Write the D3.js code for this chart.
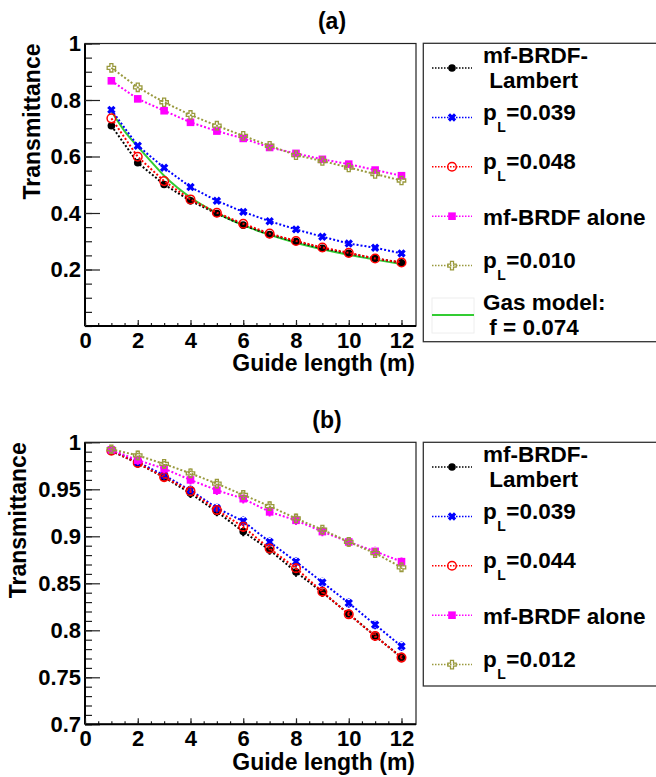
<!DOCTYPE html>
<html>
<head>
<meta charset="utf-8">
<script src="https://cdn.jsdelivr.net/npm/d3@7"></script>
<style>
  body { margin: 0; background: #fff; }
  text { font-family: "Liberation Sans", Arial, sans-serif; font-weight: bold; fill: #000; }
</style>
</head>
<body>
<div id="chart"></div>
<script>
// ---- data ----
const guideLength = [1, 2, 3, 4, 5, 6, 7, 8, 9, 10, 11, 12];

// panel (a)
const aLambert = [0.709, 0.578, 0.501, 0.443, 0.398, 0.357, 0.324, 0.299, 0.275, 0.257, 0.239, 0.224];
const aPL039   = [0.765, 0.638, 0.560, 0.492, 0.443, 0.404, 0.371, 0.342, 0.316, 0.292, 0.277, 0.257];
const aPL048   = [0.735, 0.599, 0.513, 0.448, 0.401, 0.362, 0.327, 0.301, 0.278, 0.259, 0.239, 0.225];
const aAlone   = [0.868, 0.804, 0.762, 0.721, 0.690, 0.664, 0.632, 0.611, 0.590, 0.573, 0.552, 0.532];
const aPL010   = [0.914, 0.845, 0.792, 0.747, 0.709, 0.673, 0.638, 0.605, 0.584, 0.561, 0.538, 0.515];
const gasX     = [1, 1.5, 2, 2.5, 3, 3.5, 4, 5, 6, 7, 8, 9, 10, 11, 12];
const gasY     = [0.760, 0.690, 0.635, 0.583, 0.532, 0.490, 0.455, 0.400, 0.357, 0.323, 0.295, 0.272, 0.252, 0.235, 0.219];
const labelsA  = [["mf-BRDF-", " Lambert"], ["p", "L", "=0.039"], ["p", "L", "=0.048"], ["mf-BRDF alone"], ["p", "L", "=0.010"], ["Gas model:", " f = 0.074"]];
const yTicksA  = [0.2, 0.4, 0.6, 0.8, 1];

// panel (b)
const bLambert = [0.9908, 0.9777, 0.9628, 0.9457, 0.9262, 0.9050, 0.8855, 0.8620, 0.8404, 0.8174, 0.7940, 0.7710];
const bPL039   = [0.9910, 0.9790, 0.9650, 0.9490, 0.9300, 0.9160, 0.8940, 0.8730, 0.8510, 0.8290, 0.8060, 0.7830];
const bPL044   = [0.9910, 0.9780, 0.9630, 0.9480, 0.9280, 0.9100, 0.8870, 0.8660, 0.8410, 0.8170, 0.7940, 0.7710];
const bAlone   = [0.9920, 0.9810, 0.9720, 0.9600, 0.9490, 0.9400, 0.9260, 0.9170, 0.9050, 0.8940, 0.8840, 0.8730];
const bPL012   = [0.9926, 0.9860, 0.9770, 0.9670, 0.9560, 0.9440, 0.9320, 0.9190, 0.9070, 0.8940, 0.8820, 0.8670];
const bErr     = [0.004, 0.005, 0.005, 0.005, 0.005, 0.005, 0.005, 0.005, 0.005, 0.005, 0.005, 0.005];
const labelsB  = [["mf-BRDF-", " Lambert"], ["p", "L", "=0.039"], ["p", "L", "=0.044"], ["mf-BRDF alone"], ["p", "L", "=0.012"]];
const yTicksB  = [0.7, 0.75, 0.8, 0.85, 0.9, 0.95, 1];

// ---- styles ----
const seriesStyle = [
  { color: "#000000", marker: "dot" },
  { color: "#0000ff", marker: "x" },
  { color: "#ff0000", marker: "ring" },
  { color: "#ff00ff", marker: "square" },
  { color: "#99993d", marker: "cross" }
];
const gasColor = "#33cc33";

const svg = d3.select("#chart").append("svg")
  .attr("width", 656).attr("height", 777);
svg.append("rect").attr("width", 656).attr("height", 777).attr("fill", "#fff");

const x = d3.scaleLinear().domain([0, 12.55]).range([85, 416]);

function drawMarker(g, type, cx, cy, color) {
  if (type === "dot") {
    g.append("circle").attr("cx", cx).attr("cy", cy).attr("r", 3.8).attr("fill", color);
  } else if (type === "ring") {
    g.append("circle").attr("cx", cx).attr("cy", cy).attr("r", 4.3)
      .attr("fill", "none").attr("stroke", color).attr("stroke-width", 1.5);
  } else if (type === "square") {
    g.append("rect").attr("x", cx - 3.8).attr("y", cy - 3.8).attr("width", 7.6).attr("height", 7.6).attr("fill", color);
  } else if (type === "x") {
    const s = 3.1;
    g.append("path")
      .attr("d", `M${cx - s},${cy - s}L${cx + s},${cy + s}M${cx - s},${cy + s}L${cx + s},${cy - s}`)
      .attr("stroke", color).attr("stroke-width", 3.2).attr("fill", "none");
  } else if (type === "cross") {
    const s = 4.2, a = 1.5;
    const pts = [[-a,-s],[a,-s],[a,-a],[s,-a],[s,a],[a,a],[a,s],[-a,s],[-a,a],[-s,a],[-s,-a],[-a,-a]];
    g.append("path")
      .attr("d", "M" + pts.map(p => `${cx + p[0]},${cy + p[1]}`).join("L") + "Z")
      .attr("fill", "none").attr("stroke", color).attr("stroke-width", 1.3);
  }
}

function drawLegendLabel(g, parts, lx, ly) {
  if (parts.length === 3) {
    const t = g.append("text").attr("x", lx).attr("y", ly + 2.4).style("font-size", "22.5px");
    t.append("tspan").text(parts[0]);
    t.append("tspan").attr("dx", 0.5).attr("dy", 12).style("font-size", "14px").text(parts[1]);
    t.append("tspan").attr("dx", 0.5).attr("dy", -12).text(parts[2]);
  } else if (parts.length === 2) {
    g.append("text").attr("x", lx).attr("y", ly - 4.8).style("font-size", "22.5px").attr("xml:space", "preserve").text(parts[0]);
    g.append("text").attr("x", lx).attr("y", ly + 20).style("font-size", "22.5px").attr("xml:space", "preserve").text(parts[1]);
  } else {
    g.append("text").attr("x", lx).attr("y", ly + 8.3).style("font-size", "22.5px").text(parts[0]);
  }
}

const panels = [
  { title: "(a)", titleX: 332, titleY: 29, top: 43.5, bottom: 326, domain: [0, 1], ticks: yTicksA,
    minor: d3.range(0, 1.001, 0.05), series: [aLambert, aPL039, aPL048, aAlone, aPL010], errors: null,
    labels: labelsA, legendTop: 43.3, legendBottom: 341.7, yTitleX: 39.5, xTitleY: 371, gas: true },
  { title: "(b)", titleX: 327, titleY: 428, top: 442.3, bottom: 724.3, domain: [0.7, 1], ticks: yTicksB,
    minor: d3.range(0.7, 1.0001, 0.01), series: [bLambert, bPL039, bPL044, bAlone, bPL012], errors: bErr,
    labels: labelsB, legendTop: 442.3, legendBottom: 686, yTitleX: 26, xTitleY: 770, gas: false }
];

panels.forEach(p => {
  const y = d3.scaleLinear().domain(p.domain).range([p.bottom, p.top]);
  const g = svg.append("g");

  // title
  g.append("text").attr("x", p.titleX).attr("y", p.titleY).attr("text-anchor", "middle")
    .style("font-size", "23px").text(p.title);

  // frame
  g.append("rect").attr("x", 85).attr("y", p.top).attr("width", 331).attr("height", p.bottom - p.top)
    .attr("fill", "none").attr("stroke", "#222").attr("stroke-width", 1.2);

  // minor ticks
  g.append("g").attr("transform", "translate(85,0)")
    .call(d3.axisLeft(y).tickValues(p.minor).tickSize(-7).tickFormat(""))
    .call(s => s.select(".domain").remove())
    .call(s => s.selectAll("line").attr("stroke", "#222").attr("stroke-width", 1.2));
  g.append("g").attr("transform", `translate(0,${p.bottom})`)
    .call(d3.axisBottom(x).tickValues(d3.range(0, 12.5, 0.5)).tickSize(-3).tickFormat(""))
    .call(s => s.select(".domain").remove())
    .call(s => s.selectAll("line").attr("stroke", "#222").attr("stroke-width", 1.2));

  // major axes
  const yAxis = g.append("g").attr("transform", "translate(85,0)")
    .call(d3.axisLeft(y).tickValues(p.ticks).tickSize(-15).tickPadding(4).tickFormat(d3.format("~g")));
  const xAxis = g.append("g").attr("transform", `translate(0,${p.bottom})`)
    .call(d3.axisBottom(x).tickValues(d3.range(0, 13, 2)).tickSize(-6).tickPadding(6).tickSizeOuter(0));
  [yAxis, xAxis].forEach(ax => {
    ax.select(".domain").attr("stroke", "#000").attr("stroke-width", 2);
    ax.selectAll("line").attr("stroke", "#222").attr("stroke-width", 1.2);
    ax.selectAll("text").style("font-size", "22px").style("font-family", "Liberation Sans, Arial, sans-serif")
      .style("font-weight", "bold").attr("fill", "#000");
  });
  yAxis.select(".domain").attr("d", `M0,${p.bottom}V${p.top}`);
  xAxis.select(".domain").attr("d", "M0,0H331").attr("transform", "translate(85,0)");

  // axis titles
  g.append("text").attr("x", 415).attr("y", p.xTitleY).attr("text-anchor", "end")
    .style("font-size", "23px").text("Guide length (m)");
  g.append("text").attr("transform", `translate(${p.yTitleX},${p.top}) rotate(-90)`)
    .attr("text-anchor", "end").style("font-size", "23px").text("Transmittance");

  const line = d3.line().x(d => x(d[0])).y(d => y(d[1]));

  // gas model curve
  if (p.gas) {
    g.append("path").datum(d3.zip(gasX, gasY))
      .attr("d", line.curve(d3.curveMonotoneX))
      .attr("fill", "none").attr("stroke", gasColor).attr("stroke-width", 2);
    line.curve(d3.curveLinear);
  }

  // series
  p.series.forEach((vals, i) => {
    const st = seriesStyle[i];
    const pts = d3.zip(guideLength, vals);
    g.append("path").datum(pts).attr("d", line)
      .attr("fill", "none").attr("stroke", st.color).attr("stroke-width", 2)
      .attr("stroke-dasharray", "2,2");
    if (p.errors) {
      pts.forEach((d, k) => {
        g.append("line").attr("x1", x(d[0])).attr("x2", x(d[0]))
          .attr("y1", y(d[1] - p.errors[k])).attr("y2", y(d[1] + p.errors[k]))
          .attr("stroke", st.color).attr("stroke-width", 2).attr("stroke-dasharray", "1.5,1.5");
      });
    }
    pts.forEach(d => drawMarker(g, st.marker, x(d[0]), y(d[1]), st.color));
  });

  // legend
  const lg = svg.append("g");
  lg.append("rect").attr("x", 423.3).attr("y", p.legendTop).attr("width", 240)
    .attr("height", p.legendBottom - p.legendTop)
    .attr("fill", "#fff").attr("stroke", "#333").attr("stroke-width", 1.3);
  p.labels.forEach((lab, i) => {
    const ly = p.legendTop + 24.7 + 49.4 * i;
    if (i < p.series.length) {
      const st = seriesStyle[i];
      lg.append("line").attr("x1", 432).attr("x2", 472).attr("y1", ly).attr("y2", ly)
        .attr("stroke", st.color).attr("stroke-width", 1.5).attr("stroke-dasharray", "1.5,1.5");
      drawMarker(lg, st.marker, 452, ly, st.color);
    } else {
      lg.append("rect").attr("x", 432).attr("y", ly - 17).attr("width", 42).attr("height", 35)
        .attr("fill", "none").attr("stroke", "#eee").attr("stroke-width", 1);
      lg.append("line").attr("x1", 432).attr("x2", 474).attr("y1", ly).attr("y2", ly)
        .attr("stroke", gasColor).attr("stroke-width", 2);
    }
    drawLegendLabel(lg, lab, 483, ly);
  });
});
</script>
</body>
</html>
